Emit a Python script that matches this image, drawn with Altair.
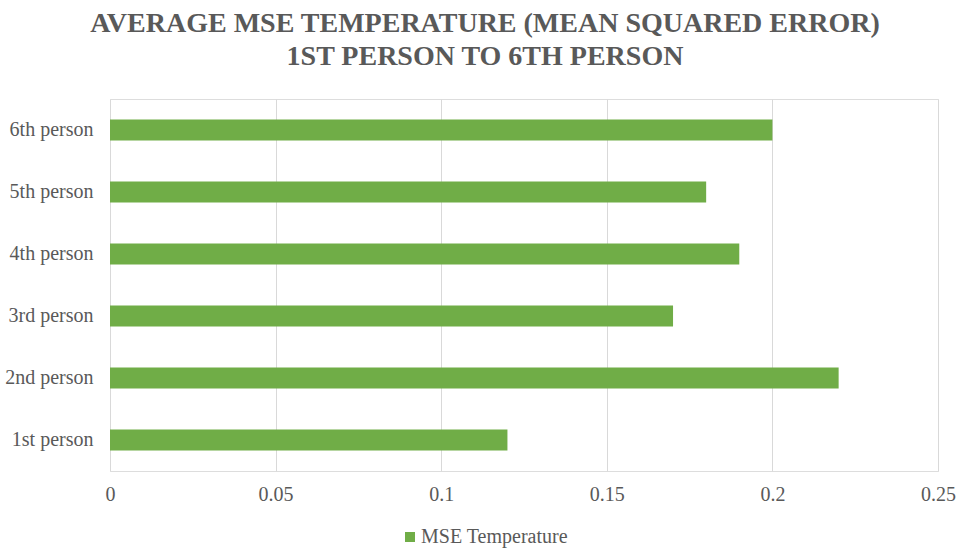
import altair as alt
import pandas as pd

# MSE temperature per person
people = ["1st person", "2nd person", "3rd person", "4th person", "5th person", "6th person"]
mse_values = [0.12, 0.22, 0.17, 0.19, 0.18, 0.20]
series_name = "MSE Temperature"
tick_values = [0, 0.05, 0.1, 0.15, 0.2, 0.25]

df = pd.DataFrame({"person": people, "mse": mse_values, "series": series_name})

GREEN = "#70AD47"
TEXT = "#595959"
FONT = "Liberation Serif"

chart = (
    alt.Chart(df)
    .mark_bar()
    .encode(
        x=alt.X(
            "mse:Q",
            scale=alt.Scale(domain=[0, 0.25], nice=False),
            axis=alt.Axis(
                values=tick_values,
                labelExpr="datum.value == 0 ? '0' : format(datum.value, '~g')",
                title=None,
                domain=False,
                ticks=False,
                grid=True,
                gridColor="#D9D9D9",
                gridWidth=1,
                labelFlush=False,
                labelPadding=13,
                labelFontSize=20,
                labelColor=TEXT,
                labelFont=FONT,
            ),
        ),
        y=alt.Y(
            "person:N",
            sort=list(reversed(people)),
            scale=alt.Scale(paddingInner=0.66, paddingOuter=0.33),
            axis=alt.Axis(
                title=None,
                domain=False,
                ticks=False,
                grid=False,
                labelPadding=17,
                labelFontSize=20,
                labelColor=TEXT,
                labelFont=FONT,
            ),
        ),
        color=alt.Color(
            "series:N",
            scale=alt.Scale(domain=[series_name], range=[GREEN]),
            legend=alt.Legend(
                title=None,
                orient="none",
                legendX=290,
                legendY=428,
                symbolType="square",
                symbolSize=100,
                symbolStrokeWidth=0,
                labelFontSize=20,
                labelColor=TEXT,
                labelFont=FONT,
                labelOffset=1,
            ),
        ),
    )
    .properties(
        width=828,
        height=372,
        padding={"left": 110, "top": 99, "right": 22, "bottom": 77},
        autosize=alt.AutoSizeParams(type="none"),
        title=alt.Title(
            ["AVERAGE MSE TEMPERATURE (MEAN SQUARED ERROR)", "1ST PERSON TO 6TH PERSON"],
            font=FONT,
            fontSize=28,
            fontWeight="bold",
            color=TEXT,
            anchor="middle",
            dx=-39,
            offset=28,
            lineHeight=33,
        ),
    )
    .configure_view(stroke="transparent", strokeWidth=0)
    .configure(background="white")
)

chart.save("out.html", embed_options={"renderer": "svg", "actions": False})
